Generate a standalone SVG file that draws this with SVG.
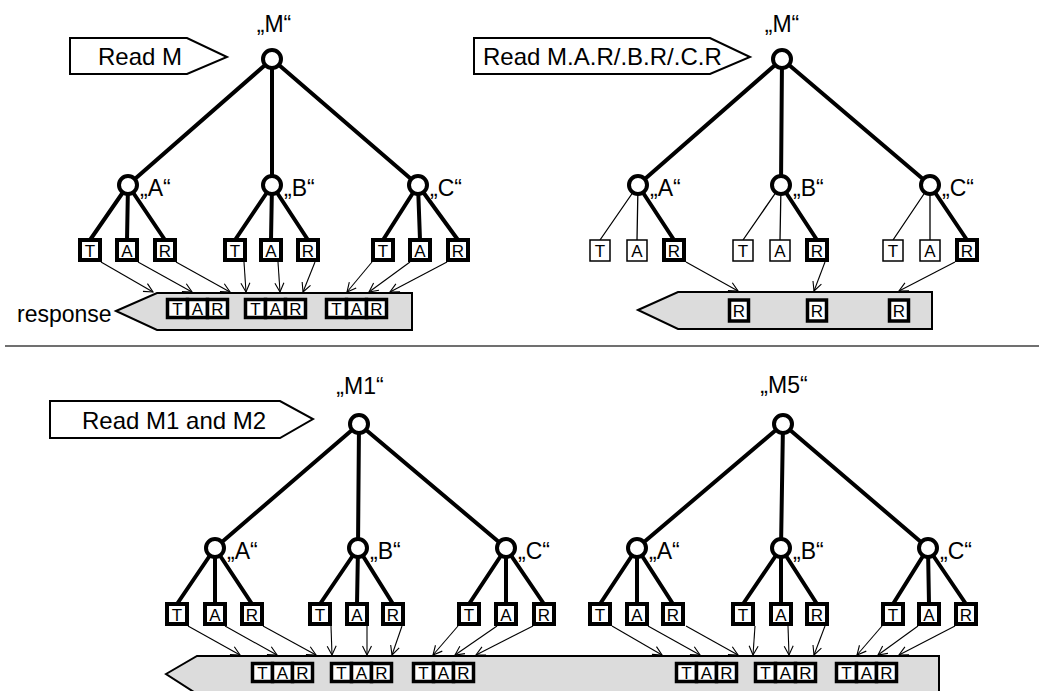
<svg xmlns="http://www.w3.org/2000/svg" width="1039" height="691" viewBox="0 0 1039 691">
  <style>
    text { font-family: "Liberation Sans", Arial, sans-serif; fill: #000; }
    .lbl { font-size: 23px; }
    .cmdtxt { font-size: 24px; }
    .box { font-size: 17px; text-anchor: middle; }
    .tree { stroke: #000; stroke-width: 4; fill: none; stroke-linecap: round; }
    .tree-thin { stroke: #000; stroke-width: 1.3; fill: none; }
    .node { fill: #fff; stroke: #000; stroke-width: 4; }
    .leaf { fill: #fff; stroke: #000; stroke-width: 4; }
    .leaf-thin { fill: #fff; stroke: #000; stroke-width: 1.5; }
    .cell { fill: #fff; stroke: #000; stroke-width: 3.5; }
    .bar { fill: #dcdcdc; stroke: #000; stroke-width: 2; }
    .cmd { fill: #fff; stroke: #000; stroke-width: 2; }
    .flow { stroke: #000; stroke-width: 1.1; fill: none; marker-end: url(#vee); }
    .divider { stroke: #707070; stroke-width: 2; }
  </style>
  <defs>
    <marker id="vee" viewBox="-10 -6 12 12" refX="0" refY="0" markerWidth="12" markerHeight="12" markerUnits="userSpaceOnUse" orient="auto">
      <path d="M-9,-4.5 L0,0 L-9,4.5" fill="none" stroke="#000" stroke-width="1.1"/>
    </marker>
    <!-- three adjacent cells T|A|R -->
    <g id="tar">
      <rect class="cell" x="1.5" y="1.5" width="20" height="18"/>
      <rect class="cell" x="21.5" y="1.5" width="20" height="18"/>
      <rect class="cell" x="41.5" y="1.5" width="20" height="18"/>
      <text class="box" x="11.5" y="16.8">T</text>
      <text class="box" x="31.5" y="16.8">A</text>
      <text class="box" x="51.5" y="16.8">R</text>
    </g>
  </defs>

  <rect width="1039" height="691" fill="#fff"/>

  <!-- ===== tree edges ===== -->
  <g id="tree-edges">
    <!-- upper left tree -->
    <path class="tree" d="M272,59 L128,185 M272,59 L272,185 M272,59 L418,185"/>
    <path class="tree" d="M128,185 L90,240 M128,185 L127,240 M128,185 L165,240"/>
    <path class="tree" d="M272,185 L235,240 M272,185 L271,240 M272,185 L308,240"/>
    <path class="tree" d="M418,185 L383,240 M418,185 L420,240 M418,185 L458,240"/>
    <!-- upper right tree -->
    <path class="tree" d="M782,59 L638,185 M782,59 L781,185 M782,59 L930,185"/>
    <path class="tree-thin" d="M638,185 L600,240 M638,185 L637,240"/>
    <path class="tree" d="M638,185 L674,240"/>
    <path class="tree-thin" d="M781,185 L743,240 M781,185 L780,240"/>
    <path class="tree" d="M781,185 L817,240"/>
    <path class="tree-thin" d="M930,185 L893,240 M930,185 L930,240"/>
    <path class="tree" d="M930,185 L967,240"/>
    <!-- lower left tree -->
    <path class="tree" d="M359,424 L215,548 M359,424 L358,548 M359,424 L506,548"/>
    <path class="tree" d="M215,548 L177,604 M215,548 L215,604 M215,548 L252,604"/>
    <path class="tree" d="M358,548 L320,604 M358,548 L357,604 M358,548 L393,604"/>
    <path class="tree" d="M506,548 L469,604 M506,548 L506,604 M506,548 L544,604"/>
    <!-- lower right tree -->
    <path class="tree" d="M783,424 L637,548 M783,424 L781,548 M783,424 L928,548"/>
    <path class="tree" d="M637,548 L600,604 M637,548 L637,604 M637,548 L673,604"/>
    <path class="tree" d="M781,548 L743,604 M781,548 L781,604 M781,548 L817,604"/>
    <path class="tree" d="M928,548 L893,604 M928,548 L929,604 M928,548 L966,604"/>
  </g>

  <!-- ===== request and response shapes ===== -->
  <g id="cmd-read-m">
    <polygon class="cmd" points="70,38 187,38 227,57 187,74 70,74"/>
    <text class="cmdtxt" x="98" y="65">Read M</text>
  </g>
  <g id="cmd-read-r">
    <polygon class="cmd" points="474,38 710,38 750,57 710,74 474,74"/>
    <text class="cmdtxt" x="483" y="65">Read M.A.R/.B.R/.C.R</text>
  </g>
  <g id="cmd-read-m1m2">
    <polygon class="cmd" points="50,401 280,401 313,419 280,438 50,438"/>
    <text class="cmdtxt" x="82" y="429">Read M1 and M2</text>
  </g>

  <g id="response-left">
    <polygon class="bar" points="116,311 157,293 412,293 412,330 157,330"/>
    <text x="17" y="322" style="font-size:23px">response</text>
    <use href="#tar" x="166" y="298"/>
    <use href="#tar" x="244" y="298"/>
    <use href="#tar" x="325" y="298"/>
  </g>
  <g id="response-right">
    <polygon class="bar" points="638,310 678,292 932,292 932,329 678,329"/>
    <rect class="leaf" x="729.5" y="300" width="19" height="21" style="stroke-width:3.5"/>
    <text class="box" x="739" y="317">R</text>
    <rect class="leaf" x="807.5" y="300" width="19" height="21" style="stroke-width:3.5"/>
    <text class="box" x="817" y="317">R</text>
    <rect class="leaf" x="889.5" y="300" width="19" height="21" style="stroke-width:3.5"/>
    <text class="box" x="899" y="317">R</text>
  </g>
  <g id="response-bottom">
    <polygon class="bar" points="166,674 197,656 939,656 939,694 197,694"/>
    <use href="#tar" x="251" y="662"/>
    <use href="#tar" x="330" y="662"/>
    <use href="#tar" x="412" y="662"/>
    <use href="#tar" x="675" y="662"/>
    <use href="#tar" x="754" y="662"/>
    <use href="#tar" x="835" y="662"/>
  </g>

  <line class="divider" x1="5" y1="346" x2="1039" y2="346"/>

  <!-- ===== connectors: leaves to response ===== -->
  <g id="connectors">
    <line class="flow" x1="101" y1="262" x2="153" y2="292"/>
    <line class="flow" x1="138" y1="262" x2="192" y2="292"/>
    <line class="flow" x1="176" y1="262" x2="230" y2="292"/>
    <line class="flow" x1="244" y1="262" x2="246" y2="292"/>
    <line class="flow" x1="278" y1="262" x2="280" y2="292"/>
    <line class="flow" x1="315" y1="262" x2="303" y2="292"/>
    <line class="flow" x1="372" y1="262" x2="347" y2="292"/>
    <line class="flow" x1="410" y1="262" x2="369" y2="292"/>
    <line class="flow" x1="447" y1="262" x2="390" y2="292"/>

    <line class="flow" x1="686" y1="262" x2="738" y2="291"/>
    <line class="flow" x1="825" y1="262" x2="814" y2="291"/>
    <line class="flow" x1="955" y1="262" x2="899" y2="291"/>

    <line class="flow" x1="188" y1="626" x2="240" y2="655"/>
    <line class="flow" x1="225" y1="626" x2="277" y2="655"/>
    <line class="flow" x1="263" y1="626" x2="316" y2="655"/>
    <line class="flow" x1="331" y1="626" x2="332" y2="655"/>
    <line class="flow" x1="367" y1="626" x2="367" y2="655"/>
    <line class="flow" x1="402" y1="626" x2="392" y2="655"/>
    <line class="flow" x1="458" y1="626" x2="433" y2="655"/>
    <line class="flow" x1="497" y1="626" x2="455" y2="655"/>
    <line class="flow" x1="533" y1="626" x2="476" y2="655"/>

    <line class="flow" x1="612" y1="626" x2="662" y2="655"/>
    <line class="flow" x1="648" y1="626" x2="700" y2="655"/>
    <line class="flow" x1="686" y1="626" x2="738" y2="655"/>
    <line class="flow" x1="755" y1="626" x2="753" y2="655"/>
    <line class="flow" x1="788" y1="626" x2="789" y2="655"/>
    <line class="flow" x1="825" y1="626" x2="814" y2="655"/>
    <line class="flow" x1="882" y1="626" x2="857" y2="655"/>
    <line class="flow" x1="918" y1="626" x2="878" y2="655"/>
    <line class="flow" x1="955" y1="626" x2="899" y2="655"/>
  </g>

  <!-- ===== upper left tree nodes ===== -->
  <g id="tl-M"><circle class="node" cx="272" cy="59" r="9"/><text class="lbl" x="274" y="32" text-anchor="middle">„M“</text></g>
  <g id="tl-A"><circle class="node" cx="128" cy="185" r="9"/><text class="lbl" x="140" y="196">„A“</text></g>
  <g id="tl-B"><circle class="node" cx="272" cy="185" r="9"/><text class="lbl" x="284" y="196">„B“</text></g>
  <g id="tl-C"><circle class="node" cx="418" cy="185" r="9"/><text class="lbl" x="430" y="196">„C“</text></g>
  <g id="tl-A-T"><rect class="leaf" x="80" y="240" width="20" height="20"/><text class="box" x="90" y="256.5">T</text></g>
  <g id="tl-A-A"><rect class="leaf" x="117" y="240" width="20" height="20"/><text class="box" x="127" y="256.5">A</text></g>
  <g id="tl-A-R"><rect class="leaf" x="155" y="240" width="20" height="20"/><text class="box" x="165" y="256.5">R</text></g>
  <g id="tl-B-T"><rect class="leaf" x="225" y="240" width="20" height="20"/><text class="box" x="235" y="256.5">T</text></g>
  <g id="tl-B-A"><rect class="leaf" x="261" y="240" width="20" height="20"/><text class="box" x="271" y="256.5">A</text></g>
  <g id="tl-B-R"><rect class="leaf" x="298" y="240" width="20" height="20"/><text class="box" x="308" y="256.5">R</text></g>
  <g id="tl-C-T"><rect class="leaf" x="373" y="240" width="20" height="20"/><text class="box" x="383" y="256.5">T</text></g>
  <g id="tl-C-A"><rect class="leaf" x="410" y="240" width="20" height="20"/><text class="box" x="420" y="256.5">A</text></g>
  <g id="tl-C-R"><rect class="leaf" x="448" y="240" width="20" height="20"/><text class="box" x="458" y="256.5">R</text></g>

  <!-- ===== upper right tree nodes ===== -->
  <g id="tr-M"><circle class="node" cx="782" cy="59" r="9"/><text class="lbl" x="782" y="32" text-anchor="middle">„M“</text></g>
  <g id="tr-A"><circle class="node" cx="638" cy="185" r="9"/><text class="lbl" x="650" y="196">„A“</text></g>
  <g id="tr-B"><circle class="node" cx="781" cy="185" r="9"/><text class="lbl" x="793" y="196">„B“</text></g>
  <g id="tr-C"><circle class="node" cx="930" cy="185" r="9"/><text class="lbl" x="942" y="196">„C“</text></g>
  <g id="tr-A-T"><rect class="leaf-thin" x="590" y="240" width="20" height="21"/><text class="box" x="600" y="257">T</text></g>
  <g id="tr-A-A"><rect class="leaf-thin" x="627" y="240" width="20" height="21"/><text class="box" x="637" y="257">A</text></g>
  <g id="tr-A-R"><rect class="leaf" x="664" y="240" width="20" height="20"/><text class="box" x="674" y="256.5">R</text></g>
  <g id="tr-B-T"><rect class="leaf-thin" x="733" y="240" width="20" height="21"/><text class="box" x="743" y="257">T</text></g>
  <g id="tr-B-A"><rect class="leaf-thin" x="770" y="240" width="20" height="21"/><text class="box" x="780" y="257">A</text></g>
  <g id="tr-B-R"><rect class="leaf" x="807" y="240" width="20" height="20"/><text class="box" x="817" y="256.5">R</text></g>
  <g id="tr-C-T"><rect class="leaf-thin" x="883" y="240" width="20" height="21"/><text class="box" x="893" y="257">T</text></g>
  <g id="tr-C-A"><rect class="leaf-thin" x="920" y="240" width="20" height="21"/><text class="box" x="930" y="257">A</text></g>
  <g id="tr-C-R"><rect class="leaf" x="957" y="240" width="20" height="20"/><text class="box" x="967" y="256.5">R</text></g>

  <!-- ===== lower left tree nodes ===== -->
  <g id="bl-M1"><circle class="node" cx="359" cy="424" r="9"/><text class="lbl" x="360" y="394" text-anchor="middle">„M1“</text></g>
  <g id="bl-A"><circle class="node" cx="215" cy="548" r="9"/><text class="lbl" x="227" y="559">„A“</text></g>
  <g id="bl-B"><circle class="node" cx="358" cy="548" r="9"/><text class="lbl" x="370" y="559">„B“</text></g>
  <g id="bl-C"><circle class="node" cx="506" cy="548" r="9"/><text class="lbl" x="518" y="559">„C“</text></g>
  <g id="bl-A-T"><rect class="leaf" x="167" y="604" width="20" height="20"/><text class="box" x="177" y="620.5">T</text></g>
  <g id="bl-A-A"><rect class="leaf" x="205" y="604" width="20" height="20"/><text class="box" x="215" y="620.5">A</text></g>
  <g id="bl-A-R"><rect class="leaf" x="242" y="604" width="20" height="20"/><text class="box" x="252" y="620.5">R</text></g>
  <g id="bl-B-T"><rect class="leaf" x="310" y="604" width="20" height="20"/><text class="box" x="320" y="620.5">T</text></g>
  <g id="bl-B-A"><rect class="leaf" x="347" y="604" width="20" height="20"/><text class="box" x="357" y="620.5">A</text></g>
  <g id="bl-B-R"><rect class="leaf" x="383" y="604" width="20" height="20"/><text class="box" x="393" y="620.5">R</text></g>
  <g id="bl-C-T"><rect class="leaf" x="459" y="604" width="20" height="20"/><text class="box" x="469" y="620.5">T</text></g>
  <g id="bl-C-A"><rect class="leaf" x="496" y="604" width="20" height="20"/><text class="box" x="506" y="620.5">A</text></g>
  <g id="bl-C-R"><rect class="leaf" x="534" y="604" width="20" height="20"/><text class="box" x="544" y="620.5">R</text></g>

  <!-- ===== lower right tree nodes ===== -->
  <g id="br-M5"><circle class="node" cx="783" cy="424" r="9"/><text class="lbl" x="784" y="393" text-anchor="middle">„M5“</text></g>
  <g id="br-A"><circle class="node" cx="637" cy="548" r="9"/><text class="lbl" x="649" y="559">„A“</text></g>
  <g id="br-B"><circle class="node" cx="781" cy="548" r="9"/><text class="lbl" x="793" y="559">„B“</text></g>
  <g id="br-C"><circle class="node" cx="928" cy="548" r="9"/><text class="lbl" x="940" y="559">„C“</text></g>
  <g id="br-A-T"><rect class="leaf" x="590" y="604" width="20" height="20"/><text class="box" x="600" y="620.5">T</text></g>
  <g id="br-A-A"><rect class="leaf" x="627" y="604" width="20" height="20"/><text class="box" x="637" y="620.5">A</text></g>
  <g id="br-A-R"><rect class="leaf" x="663" y="604" width="20" height="20"/><text class="box" x="673" y="620.5">R</text></g>
  <g id="br-B-T"><rect class="leaf" x="733" y="604" width="20" height="20"/><text class="box" x="743" y="620.5">T</text></g>
  <g id="br-B-A"><rect class="leaf" x="771" y="604" width="20" height="20"/><text class="box" x="781" y="620.5">A</text></g>
  <g id="br-B-R"><rect class="leaf" x="807" y="604" width="20" height="20"/><text class="box" x="817" y="620.5">R</text></g>
  <g id="br-C-T"><rect class="leaf" x="883" y="604" width="20" height="20"/><text class="box" x="893" y="620.5">T</text></g>
  <g id="br-C-A"><rect class="leaf" x="919" y="604" width="20" height="20"/><text class="box" x="929" y="620.5">A</text></g>
  <g id="br-C-R"><rect class="leaf" x="956" y="604" width="20" height="20"/><text class="box" x="966" y="620.5">R</text></g>
</svg>
